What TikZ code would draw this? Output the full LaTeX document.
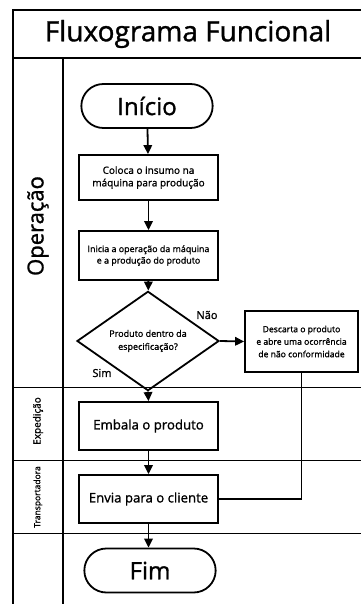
\documentclass[tikz,border=0pt]{standalone}
\usepackage{fontspec}
\setmainfont{Open Sans}
\newfontfamily\semib{Open Sans}[FakeBold=1.2]
\usetikzlibrary{arrows.meta,shapes.geometric,shapes.misc}
\begin{document}
\begin{tikzpicture}[x=1pt,y=-1pt,
  frame/.style={line width=2pt},
  lane/.style={line width=1pt},
  box/.style={draw, line width=1.8pt, minimum width=139pt, align=center, inner sep=2pt},
  term/.style={draw, line width=1.8pt, rounded rectangle, minimum width=138pt, minimum height=44pt, font=\semib\fontsize{24}{26}\selectfont},
  dec/.style={draw, line width=1.8pt, diamond, minimum width=142pt, minimum height=73pt, inner sep=0pt, align=center, font=\semib\fontsize{9}{13}\selectfont},
  arr/.style={line width=1.8pt, -{Triangle[length=9pt,width=8.5pt]}},
  conn/.style={line width=1.3pt},
  small/.style={font=\semib\fontsize{10}{12.5}\selectfont},
  med/.style={font=\semib\fontsize{13.2}{16}\selectfont}
]
\useasboundingbox (0,0) rectangle (361,604);
% frame
\draw[frame] (13,604) -- (13,10) -- (361,10);
\draw[frame] (13,58) -- (361,58);
\draw[line width=2.4pt] (63,58) -- (63,604);
\draw[lane] (13,387) -- (361,387);
\draw[lane] (13,460) -- (361,460);
\draw[lane] (13,533) -- (361,533);
% title and lane labels
\node (title) at (188,34) {\semib\fontsize{28}{30}\selectfont Fluxograma Funcional};
\node[rotate=90] (lop) at (38,226) {\semib\fontsize{22}{24}\selectfont Operação};
\node[rotate=90] (lex) at (38,421) {\semib\fontsize{10}{11}\selectfont Expedição};
\node[rotate=90] (ltr) at (38,497) {\semib\fontsize{8.5}{9}\selectfont Transportadora};
% flow nodes
\node[term] (ini) at (147,106) {Início};
\node[box, small, minimum height=45pt] (b1) at (148.5,177.5) {Coloca o insumo na\\máquina para produção};
\node[box, minimum height=49pt, font=\semib\fontsize{8.9}{11.5}\selectfont] (b2) at (148.5,255.5) {Inicia a operação da máquina\\e a produção do produto};
\node[dec] (d) at (148,341) {Produto dentro da\\especificação?};
\node[box, minimum width=113pt, minimum height=61pt, font=\semib\fontsize{8.6}{12.5}\selectfont] (desc) at (301.5,341.5) {Descarta o produto\\e abre uma ocorrência\\de não conformidade};
\node[box, med, minimum height=48pt] (emb) at (148.5,426) {Embala o produto};
\node[box, med, minimum height=48pt] (env) at (148.5,499) {Envia para o cliente};
\node[term] (fim) at (150,570.5) {Fim};
\node[font=\semib\fontsize{11}{12}\selectfont] (nao) at (207,315) {Não};
\node[font=\semib\fontsize{11}{12}\selectfont] (sim) at (102,373) {Sim};
% connectors
\draw[arr] (ini) -- (b1);
\draw[arr] (b1) -- (b2);
\draw[arr] (b2) -- (d);
\draw[arr] (d.east) -- (desc.west);
\draw[arr] (d.south) -- (emb.north);
\draw[arr] (emb) -- (env);
\draw[arr] (env.south) -- (env.south |- fim.north);
\draw[conn] (desc.south) |- (env.east);
\end{tikzpicture}
\end{document}
